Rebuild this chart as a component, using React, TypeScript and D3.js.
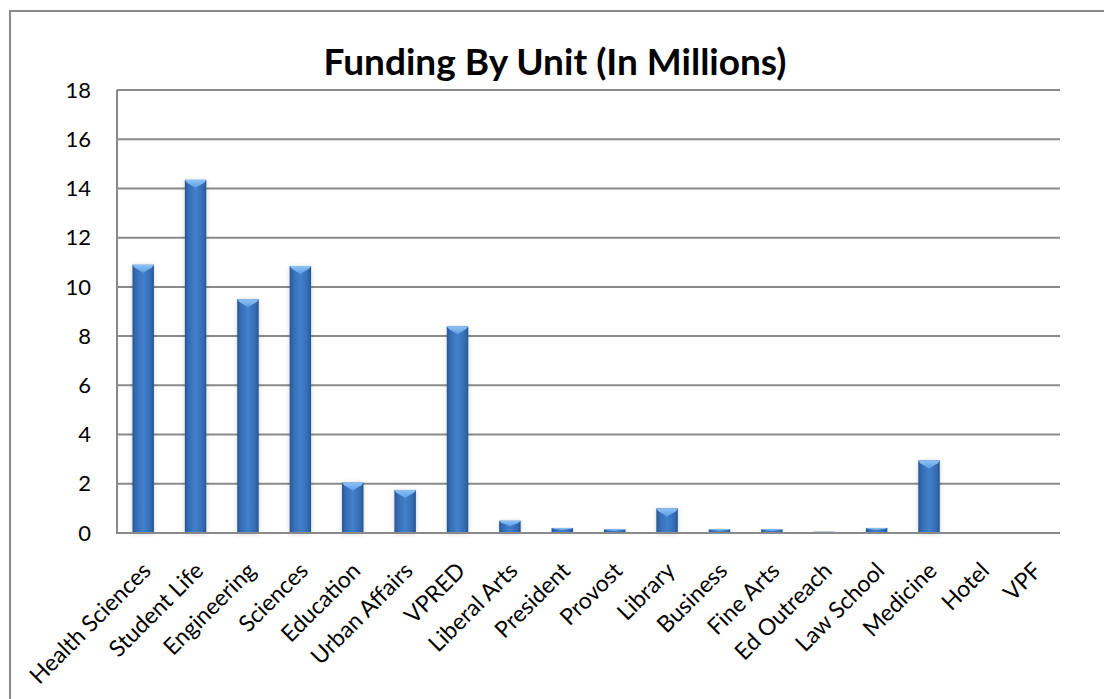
import React from "react";
import * as d3 from "d3";

const categories = [
  "Health Sciences", "Student Life", "Engineering", "Sciences", "Education",
  "Urban Affairs", "VPRED", "Liberal Arts", "President", "Provost", "Library",
  "Business", "Fine Arts", "Ed Outreach", "Law School", "Medicine", "Hotel", "VPF",
];
const funding = [
  10.9, 14.35, 9.5, 10.85, 2.05, 1.75, 8.4, 0.5, 0.2, 0.15, 1.0,
  0.15, 0.15, 0.05, 0.2, 2.95, 0, 0,
];
const yTicks = [0, 2, 4, 6, 8, 10, 12, 14, 16, 18];
const title = "Funding By Unit (In Millions)";

const W = 1104;
const H = 699;
const plot = { left: 117, right: 1060, top: 90, bottom: 533 };
const FONT = "Lato, 'Open Sans', sans-serif";

export default function App() {
  const x = d3.scaleBand<string>()
    .domain(categories)
    .range([plot.left, plot.right])
    .paddingInner(0.59)
    .paddingOuter(0.295);
  const y = d3.scaleLinear().domain([0, 18]).range([plot.bottom, plot.top]);
  const bw = x.bandwidth();

  return (
    <svg width={W} height={H} style={{ position: "absolute", left: 0, top: 0, background: "#fff" }}>
      <defs>
        <linearGradient id="barGrad" x1="0" x2="1" y1="0" y2="0">
          <stop offset="0" stopColor="#25558f" />
          <stop offset="0.15" stopColor="#356bb2" />
          <stop offset="0.5" stopColor="#4281cc" />
          <stop offset="0.85" stopColor="#356bb2" />
          <stop offset="1" stopColor="#25558f" />
        </linearGradient>
        <linearGradient id="bevelGrad" x1="0" x2="0" y1="0" y2="1">
          <stop offset="0" stopColor="#8cc2f5" />
          <stop offset="1" stopColor="#5f9fe6" />
        </linearGradient>
        <filter id="shadow" x="-50%" y="-20%" width="200%" height="140%">
          <feDropShadow dx="0" dy="1" stdDeviation="2.5" floodColor="#000" floodOpacity="0.18" />
        </filter>
      </defs>
      <rect x={10} y={11} width={1200} height={800} fill="#fff" stroke="#8a8a8a" strokeWidth={2} />
      <text x={555} y={75} textAnchor="middle" fontFamily={FONT} fontWeight="bold" fontSize={37} fill="#000">
        {title}
      </text>
      {yTicks.map((t) => (
        <g key={t}>
          <line x1={plot.left} x2={plot.right} y1={y(t)} y2={y(t)} stroke="#8a8a8a" strokeWidth={2} />
          <text x={91} y={y(t)} dy="0.35em" textAnchor="end" fontFamily={FONT} fontSize={22} fill="#000">
            {t}
          </text>
        </g>
      ))}
      <line x1={plot.left} x2={plot.left} y1={plot.top} y2={plot.bottom + 1} stroke="#8a8a8a" strokeWidth={2} />
      {funding.map((v, i) => {
        const h = y(0) - y(v);
        if (h <= 0) return null;
        const x0 = x(categories[i])!;
        const bevel = Math.min(8, h * 0.45);
        return (
          <g key={i} filter="url(#shadow)">
            <rect x={x0} y={y(v)} width={bw} height={h} fill="url(#barGrad)" />
            <path
              d={`M${x0},${y(v)}L${x0 + bw},${y(v)}L${x0 + bw - 2},${y(v) + bevel * 0.35}L${x0 + bw / 2},${y(v) + bevel}L${x0 + 2},${y(v) + bevel * 0.35}Z`}
              fill="url(#bevelGrad)"
            />
          </g>
        );
      })}
      <line x1={plot.left} x2={plot.right} y1={plot.bottom} y2={plot.bottom} stroke="#8a8a8a" strokeWidth={2} />
      {categories.map((c) => {
        const cx = x(c)! + bw / 2;
        return (
          <text
            key={c}
            transform={`translate(${cx - 3},${plot.bottom + 27}) rotate(-45)`}
            textAnchor="end"
            dy="0.75em"
            fontFamily={FONT}
            fontSize={23}
            fill="#000"
          >
            {c}
          </text>
        );
      })}
    </svg>
  );
}
